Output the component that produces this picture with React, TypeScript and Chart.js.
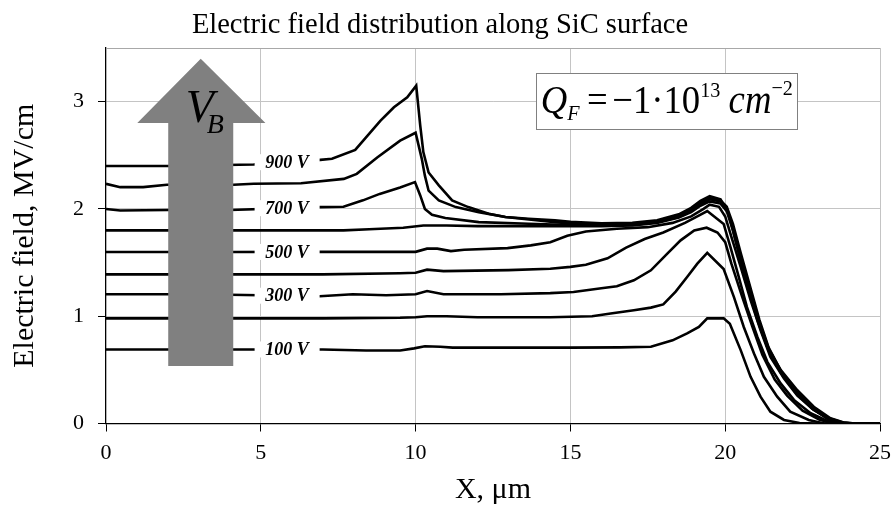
import React, { useEffect, useRef } from "react";
import { Chart, registerables } from "chart.js";

Chart.register(...registerables);

const FONT = "'Liberation Serif', 'Times New Roman', serif";

const TITLE = "Electric field distribution along SiC surface";
const X_TITLE = "X, \u03bcm";
const Y_TITLE = "Electric field, MV/cm";

const X_TICKS = [0, 5, 10, 15, 20, 25];
const Y_TICKS = [0, 1, 2, 3];
const X_MIN = 0;
const X_MAX = 25;
const Y_MIN = 0;
const Y_MAX = 3.5;

const SERIES_NAMES = ["100 V", "200 V", "300 V", "400 V", "500 V", "600 V", "700 V", "800 V", "900 V"];
const LABELED_SERIES = ["100 V", "300 V", "500 V", "700 V", "900 V"];

// [x (um), E (MV/cm)] pairs
const E_100V: [number, number][] = [
  [0, 0.69], [2, 0.69], [4, 0.69], [7, 0.69], [8.4, 0.68], [9.5, 0.68], [9.95, 0.7], [10.3, 0.72], [10.8, 0.716],
  [11.2, 0.707], [13, 0.707], [15, 0.707], [16.6, 0.71], [17.6, 0.715], [18.3, 0.775], [18.77, 0.84], [19.15, 0.9],
  [19.42, 0.98], [19.95, 0.98], [20.15, 0.93], [20.5, 0.684], [20.82, 0.435], [21.14, 0.25], [21.46, 0.11],
  [21.9, 0.033], [22.4, 0.005], [23, 0], [25, 0],
];
const E_200V: [number, number][] = [
  [0, 0.98], [2, 0.98], [4, 0.98], [7, 0.98], [9.5, 0.985], [10.0, 0.99], [10.37, 1.0], [11, 1.0], [12, 0.99],
  [14.35, 0.99], [15.7, 1.0], [16.3, 1.025], [17.05, 1.056], [17.6, 1.08], [18.0, 1.11], [18.4, 1.23], [18.77, 1.365],
  [19.1, 1.49], [19.42, 1.59], [19.95, 1.44], [20.28, 1.18], [20.6, 0.9], [20.93, 0.653], [21.25, 0.435],
  [21.68, 0.25], [22.1, 0.11], [22.7, 0.033], [23.2, 0], [25, 0],
];
const E_300V: [number, number][] = [
  [0, 1.205], [2, 1.205], [4, 1.2], [6.9, 1.186], [7.97, 1.205], [9.05, 1.195], [10.0, 1.205], [10.37, 1.235],
  [10.9, 1.205], [12.75, 1.205], [14.35, 1.215], [15.1, 1.226], [16.0, 1.26], [16.5, 1.28], [17.05, 1.335],
  [17.6, 1.428], [18.13, 1.583], [18.56, 1.707], [19.0, 1.8], [19.4, 1.825], [19.75, 1.78], [20.0, 1.69],
  [20.2, 1.49], [20.55, 1.18], [20.88, 0.9], [21.2, 0.64], [21.6, 0.41], [22.0, 0.26], [22.5, 0.12], [23.05, 0.035],
  [23.5, 0], [25, 0],
];
const E_400V: [number, number][] = [
  [0, 1.39], [2, 1.39], [4, 1.39], [7, 1.39], [9.5, 1.4], [10.0, 1.405], [10.37, 1.434], [10.9, 1.42], [13, 1.43],
  [14.35, 1.443], [15.0, 1.46], [15.5, 1.48], [16.2, 1.54], [16.8, 1.64], [17.4, 1.72], [18.0, 1.78], [18.7, 1.87],
  [19.1, 1.93], [19.42, 1.98], [19.95, 1.86], [20.17, 1.645], [20.44, 1.365], [20.7, 1.087], [21.04, 0.807],
  [21.36, 0.575], [21.79, 0.374], [22.22, 0.22], [22.76, 0.095], [23.3, 0.025], [23.7, 0], [25, 0],
];
const E_500V: [number, number][] = [
  [0, 1.598], [2, 1.598], [4, 1.598], [7, 1.6], [10.0, 1.6], [10.37, 1.63], [10.7, 1.63], [11.14, 1.607],
  [11.57, 1.62], [12.97, 1.635], [13.72, 1.66], [14.35, 1.69], [14.9, 1.75], [15.5, 1.79], [16.5, 1.815],
  [17.5, 1.83], [18.3, 1.87], [18.9, 1.93], [19.3, 2.0], [19.5, 2.04], [19.8, 2.02], [20.0, 1.93], [20.2, 1.74],
  [20.5, 1.46], [20.82, 1.15], [21.14, 0.87], [21.46, 0.62], [21.9, 0.42], [22.33, 0.26], [22.86, 0.126],
  [23.4, 0.04], [23.8, 0], [25, 0],
];
const E_600V: [number, number][] = [
  [0, 1.8], [2, 1.8], [4, 1.8], [7.67, 1.8], [8.5, 1.81], [9.6, 1.825], [10.25, 1.846], [11, 1.845], [12, 1.84],
  [14.35, 1.84], [16, 1.84], [17, 1.845], [17.8, 1.87], [18.5, 1.92], [18.9, 1.97], [19.2, 2.03], [19.5, 2.07],
  [19.85, 2.05], [20.05, 1.98], [20.25, 1.8], [20.5, 1.52], [20.8, 1.22], [21.1, 0.93], [21.4, 0.68], [21.8, 0.47],
  [22.3, 0.28], [22.8, 0.14], [23.3, 0.045], [23.7, 0.01], [24.0, 0], [25, 0],
];
const E_700V: [number, number][] = [
  [0, 2.0], [0.46, 1.986], [2, 1.99], [4, 1.99], [6.9, 2.017], [7.67, 2.02], [8.3, 2.08], [8.84, 2.14], [9.5, 2.2],
  [9.98, 2.25], [10.15, 2.126], [10.3, 2.0], [10.53, 1.946], [10.96, 1.915], [12.04, 1.877], [13.65, 1.862],
  [15, 1.85], [16, 1.848], [17, 1.85], [17.8, 1.875], [18.5, 1.925], [18.9, 1.98], [19.2, 2.05], [19.5, 2.09],
  [19.85, 2.07], [20.05, 2.0], [20.25, 1.83], [20.5, 1.56], [20.8, 1.25], [21.1, 0.95], [21.4, 0.7], [21.8, 0.48],
  [22.3, 0.29], [22.8, 0.145], [23.3, 0.047], [23.75, 0.01], [24.1, 0], [25, 0],
];
const E_800V: [number, number][] = [
  [0, 2.234], [0.46, 2.203], [1.2, 2.203], [1.97, 2.225], [4.12, 2.225], [4.77, 2.234], [6.3, 2.24], [7.68, 2.28],
  [8.1, 2.327], [8.76, 2.48], [9.5, 2.637], [10.0, 2.71], [10.2, 2.467], [10.3, 2.31], [10.42, 2.17], [10.75, 2.08],
  [11.3, 2.017], [12.04, 1.97], [12.9, 1.924], [14.5, 1.877], [15, 1.865], [16, 1.855], [17, 1.86], [17.8, 1.885],
  [18.5, 1.94], [18.9, 1.995], [19.2, 2.06], [19.5, 2.1], [19.85, 2.08], [20.05, 2.02], [20.25, 1.86], [20.5, 1.59],
  [20.8, 1.28], [21.1, 0.97], [21.4, 0.71], [21.8, 0.49], [22.3, 0.3], [22.8, 0.15], [23.35, 0.048], [23.8, 0.01],
  [24.2, 0], [25, 0],
];
const E_900V: [number, number][] = [
  [0, 2.4], [2, 2.4], [4.77, 2.414], [6.92, 2.457], [7.3, 2.467], [8.05, 2.55], [8.86, 2.82], [9.3, 2.947],
  [9.73, 3.04], [10.02, 3.149], [10.15, 2.777], [10.25, 2.53], [10.42, 2.34], [10.75, 2.22], [11.18, 2.08],
  [11.7, 2.017], [12.36, 1.955], [12.9, 1.924], [13.65, 1.909], [14.5, 1.895], [15, 1.88], [16, 1.865], [17, 1.87],
  [17.8, 1.895], [18.5, 1.95], [18.9, 2.01], [19.2, 2.075], [19.5, 2.12], [19.85, 2.09], [20.11, 1.955],
  [20.39, 1.645], [20.7, 1.3], [21.04, 0.963], [21.36, 0.714], [21.79, 0.5], [22.33, 0.31], [22.86, 0.156],
  [23.4, 0.048], [23.83, 0.01], [24.2, 0], [25, 0],
];
const SERIES_VALUES = [E_100V, E_200V, E_300V, E_400V, E_500V, E_600V, E_700V, E_800V, E_900V];

// annotation geometry (data units)
const LABEL_X = 5.85;
const LABEL_GAP = [4.8, 6.9];
const ARROW = { shaftLeft: 2.01, shaftRight: 4.11, bottom: 0.535, headBase: 2.8, headLeft: 1.01, headRight: 5.15, tip: 3.4 };
const QF_BOX = { left: 13.9, right: 22.33, top: 3.263, bottom: 2.74 };

function interp(pts: [number, number][], x: number) {
  for (let i = 1; i < pts.length; i++) {
    if (pts[i][0] >= x) {
      const [x0, y0] = pts[i - 1];
      const [x1, y1] = pts[i];
      return y0 + ((y1 - y0) * (x - x0)) / (x1 - x0);
    }
  }
  return pts[pts.length - 1][1];
}

const overlayPlugin = {
  id: "overlay",
  afterDatasetsDraw(chart: any) {
    const ctx = chart.ctx;
    const xs = chart.scales.x;
    const ys = chart.scales.y;
    const area = chart.chartArea;
    ctx.save();

    // top border
    ctx.strokeStyle = "#a8a8a8";
    ctx.lineWidth = 1;
    ctx.beginPath();
    ctx.moveTo(area.left, area.top + 0.5);
    ctx.lineTo(area.right, area.top + 0.5);
    ctx.stroke();

    // series labels
    const gx0 = xs.getPixelForValue(LABEL_GAP[0]);
    const gx1 = xs.getPixelForValue(LABEL_GAP[1]);
    const lx = xs.getPixelForValue(LABEL_X);
    ctx.font = `italic bold 18px ${FONT}`;
    ctx.textAlign = "center";
    ctx.textBaseline = "middle";
    LABELED_SERIES.forEach((name) => {
      const idx = SERIES_NAMES.indexOf(name);
      const py = ys.getPixelForValue(interp(SERIES_VALUES[idx], LABEL_X));
      ctx.fillStyle = "#ffffff";
      ctx.fillRect(gx0, py - 8, gx1 - gx0, 16);
      ctx.fillStyle = "#000000";
      ctx.fillText(name, lx, py + 1);
    });

    // arrow
    const px = (v: number) => xs.getPixelForValue(v);
    const py = (v: number) => ys.getPixelForValue(v);
    const tipX = (ARROW.shaftLeft + ARROW.shaftRight) / 2;
    ctx.fillStyle = "#808080";
    ctx.beginPath();
    ctx.moveTo(px(ARROW.shaftRight), py(ARROW.bottom));
    ctx.lineTo(px(ARROW.shaftRight), py(ARROW.headBase));
    ctx.lineTo(px(ARROW.headRight), py(ARROW.headBase));
    ctx.lineTo(px(tipX), py(ARROW.tip));
    ctx.lineTo(px(ARROW.headLeft), py(ARROW.headBase));
    ctx.lineTo(px(ARROW.shaftLeft), py(ARROW.headBase));
    ctx.lineTo(px(ARROW.shaftLeft), py(ARROW.bottom));
    ctx.closePath();
    ctx.fill();

    // V_B
    ctx.fillStyle = "#000";
    ctx.textAlign = "left";
    ctx.textBaseline = "alphabetic";
    const vx = px(tipX) - 15;
    const vy = py(ARROW.headBase) - 1;
    ctx.font = `italic 46px ${FONT}`;
    ctx.fillText("V", vx, vy);
    ctx.font = `italic 28px ${FONT}`;
    ctx.fillText("B", vx + 21, vy + 11);

    // Q_F box
    const bx0 = px(QF_BOX.left);
    const bx1 = px(QF_BOX.right);
    const by0 = py(QF_BOX.top);
    const by1 = py(QF_BOX.bottom);
    ctx.fillStyle = "#fff";
    ctx.fillRect(bx0, by0, bx1 - bx0, by1 - by0);
    ctx.strokeStyle = "#808080";
    ctx.lineWidth = 1;
    ctx.strokeRect(Math.round(bx0) + 0.5, Math.round(by0) + 0.5, Math.round(bx1 - bx0), Math.round(by1 - by0));

    const big = 40;
    const small = 22;
    const segs: { t: string; f: string; dy: number; gap?: number }[] = [
      { t: "Q", f: `italic ${big}px ${FONT}`, dy: 0 },
      { t: "F", f: `italic ${small}px ${FONT}`, dy: 7, gap: 8 },
      { t: "=", f: `${big}px ${FONT}`, dy: 0, gap: 5 },
      { t: "\u22121\u00b710", f: `${big}px ${FONT}`, dy: 0 },
      { t: "13", f: `${small}px ${FONT}`, dy: -16, gap: 9 },
      { t: "cm", f: `italic ${big}px ${FONT}`, dy: 0 },
      { t: "\u22122", f: `${small}px ${FONT}`, dy: -18 },
    ];
    let total = 0;
    segs.forEach((s) => {
      ctx.font = s.f;
      total += ctx.measureText(s.t).width + (s.gap || 0);
    });
    const avail = 252;
    const sx = Math.min(1, avail / total);
    const runW = total * sx;
    const startX = (bx0 + bx1) / 2 - runW / 2;
    const baseY = by0 + (by1 - by0) * 0.7;
    ctx.save();
    ctx.translate(startX, baseY);
    ctx.scale(sx, 1);
    let cx = 0;
    ctx.fillStyle = "#000";
    segs.forEach((s) => {
      ctx.font = s.f;
      ctx.fillText(s.t, cx, s.dy);
      cx += ctx.measureText(s.t).width + (s.gap || 0);
    });
    ctx.restore();

    ctx.restore();
  },
};

export default function App() {
  const ref = useRef<HTMLCanvasElement | null>(null);

  useEffect(() => {
    document.body.style.margin = "0";
    const canvas = ref.current;
    if (!canvas) return;
    const gridColor = (c: any) => (c.tick && c.tick.value === 0 ? "rgba(0,0,0,0)" : "#c4c4c4");
    const chart = new Chart(canvas, {
      type: "line",
      data: {
        datasets: SERIES_NAMES.map((name, i) => ({
          label: name,
          data: SERIES_VALUES[i].map(([x, y]) => ({ x, y })),
          borderColor: "#000000",
          backgroundColor: "#000000",
          borderWidth: 2.6,
          pointRadius: 0,
          tension: 0,
          fill: false,
        })),
      },
      options: {
        responsive: false,
        animation: false,
        layout: { padding: { left: 0, right: 16, top: 0, bottom: 15 } },
        plugins: {
          legend: { display: false },
          tooltip: { enabled: false },
          title: {
            display: true,
            text: TITLE,
            color: "#000",
            font: { family: FONT, size: 28.5, weight: "normal" },
            padding: { top: 8, bottom: 5.8 },
          },
        },
        scales: {
          x: {
            type: "linear",
            min: X_MIN,
            max: X_MAX,
            afterBuildTicks: (s: any) => {
              s.ticks = X_TICKS.map((v) => ({ value: v }));
            },
            afterFit: (s: any) => {
              s.height = 88.5;
              s.paddingLeft = 0;
              s.paddingRight = 0;
            },
            grid: { color: gridColor, tickColor: "#000", tickLength: 8, lineWidth: 1 },
            border: { color: "#000", width: 1.3 },
            ticks: { color: "#000", font: { family: FONT, size: 22 }, padding: 9, maxRotation: 0 },
            title: {
              display: true,
              text: X_TITLE,
              color: "#000",
              font: { family: FONT, size: 30 },
              padding: { top: 0, bottom: 4 },
            },
          },
          y: {
            type: "linear",
            min: Y_MIN,
            max: Y_MAX,
            afterBuildTicks: (s: any) => {
              s.ticks = Y_TICKS.map((v) => ({ value: v }));
            },
            afterFit: (s: any) => {
              s.width = 106;
              s.paddingTop = 0;
              s.paddingBottom = 0;
            },
            grid: { color: gridColor, tickColor: "#000", tickLength: 8, lineWidth: 1 },
            border: { color: "#000", width: 1.3 },
            ticks: { color: "#000", font: { family: FONT, size: 22 }, padding: 14 },
            title: {
              display: true,
              text: Y_TITLE,
              color: "#000",
              font: { family: FONT, size: 30 },
              padding: { top: 7, bottom: 0 },
            },
          },
        },
      },
      plugins: [overlayPlugin],
    } as any);
    return () => chart.destroy();
  }, []);

  return (
    <div style={{ width: 896, height: 527, background: "#fff" }}>
      <canvas ref={ref} width={896} height={527} style={{ display: "block" }} />
    </div>
  );
}
